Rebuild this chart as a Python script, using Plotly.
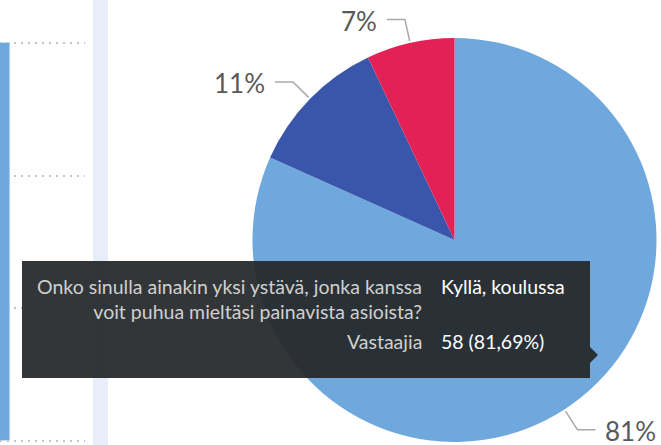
import math
import plotly.graph_objects as go

# ---- data ----
categories = ["Kyllä, koulussa", "Kyllä, muualla", "Ei"]
counts = [58, 8, 5]
colors = ["#6fa8dc", "#3a56ab", "#e32155"]

left_categories = [0]
left_values = [60]

question = "Onko sinulla ainakin yksi ystävä, jonka kanssa<br>voit puhua mieltäsi painavista asioista?"
hover_cat = "Kyllä, koulussa"
resp_label = "Vastaajia"
resp_count = 58

W, H = 661, 445
FONT = "Lato"

def px(x):
    return x / W

def py(y):
    return 1 - y / H

# pie geometry (pixels)
CX, CY, R = 454.5, 240, 202

fig = go.Figure()

fig.add_trace(go.Pie(
    labels=categories, values=counts, sort=False, direction="clockwise", rotation=0,
    marker=dict(colors=colors, line=dict(width=0)),
    textinfo="none", hoverinfo="skip", showlegend=False,
    domain=dict(x=[px(CX - R), px(CX + R)], y=[py(CY + R), py(CY - R)]),
))

# left partial bar chart
fig.add_trace(go.Bar(x=left_categories, y=left_values, width=1, marker_color="#6fa8dc",
                     hoverinfo="skip", showlegend=False))

shapes = []
annotations = []

# light vertical band
shapes.append(dict(type="rect", xref="paper", yref="paper", x0=px(93), x1=px(108), y0=0, y1=1,
                   fillcolor="#e7eef9", line=dict(width=0), layer="below"))

# leader lines + labels
total = sum(counts)
cum = 0
for c in counts:
    frac = c / total
    mid = cum + frac / 2
    cum += frac
    th = 2 * math.pi * mid
    s, co = math.sin(th), math.cos(th)
    x0, y0 = CX + (R + 2) * s, CY - (R + 2) * co
    x1, y1 = CX + (R + 24) * s, CY - (R + 24) * co
    side = 1 if s >= 0 else -1
    x2 = x1 + side * 18
    shapes.append(dict(type="path", xref="paper", yref="paper",
                       path=f"M {px(x0)},{py(y0)} L {px(x1)},{py(y1)} L {px(x2)},{py(y1)}",
                       line=dict(color="#a9a9a9", width=1.5)))
    pct = int(frac * 100)
    annotations.append(dict(xref="paper", yref="paper", x=px(x2 + side * 8), y=py(y1 + 1),
                            text=f"{pct}%", showarrow=False,
                            xanchor="left" if side > 0 else "right", yanchor="middle",
                            font=dict(family=FONT, size=26, color="#595959")))

# tooltip box
TIP = "rgba(38,41,44,0.94)"
shapes.append(dict(type="rect", xref="paper", yref="paper", x0=px(22), x1=px(590), y0=py(378), y1=py(261),
                   fillcolor=TIP, line=dict(width=0)))
shapes.append(dict(type="path", xref="paper", yref="paper",
                   path=f"M {px(590)},{py(347)} L {px(598)},{py(355)} L {px(590)},{py(363)} Z",
                   fillcolor=TIP, line=dict(width=0)))

pct_str = f"{resp_count / total * 100:.2f}".replace(".", ",")
TS = 19.5
annotations += [
    dict(xref="paper", yref="paper", x=px(424), y=py(299), text=question, showarrow=False,
         xanchor="right", yanchor="middle", align="right",
         font=dict(family=FONT, size=TS, color="#cfcfcf")),
    dict(xref="paper", yref="paper", x=px(439), y=py(286), text=hover_cat, showarrow=False,
         xanchor="left", yanchor="middle",
         font=dict(family=FONT, size=TS, color="#ffffff")),
    dict(xref="paper", yref="paper", x=px(424), y=py(341), text=resp_label, showarrow=False,
         xanchor="right", yanchor="middle",
         font=dict(family=FONT, size=TS, color="#cfcfcf")),
    dict(xref="paper", yref="paper", x=px(439), y=py(341), text=f"{resp_count} ({pct_str}%)", showarrow=False,
         xanchor="left", yanchor="middle",
         font=dict(family=FONT, size=TS, color="#ffffff")),
]

unit = (441 - 43) / 60.0
fig.update_layout(
    width=W, height=H, margin=dict(l=0, r=0, t=0, b=0),
    paper_bgcolor="white", plot_bgcolor="white",
    shapes=shapes, annotations=annotations,
    xaxis=dict(domain=[0, px(85)], range=[0.4, 1.25], showgrid=False, zeroline=False,
               showticklabels=False, fixedrange=True),
    yaxis=dict(domain=[py(441 + 0.5 * unit), py(43 - 0.5 * unit)], range=[-0.5, 60.5],
               tickvals=[0, 20, 40, 60],
               showgrid=True, gridcolor="#c4c4c4", griddash="2px,5px", gridwidth=1.5,
               zeroline=False, showticklabels=False, fixedrange=True),
    bargap=0,
)

fig.write_html("out.html", config={"displayModeBar": False},
               post_script="document.body.style.margin='0';")
